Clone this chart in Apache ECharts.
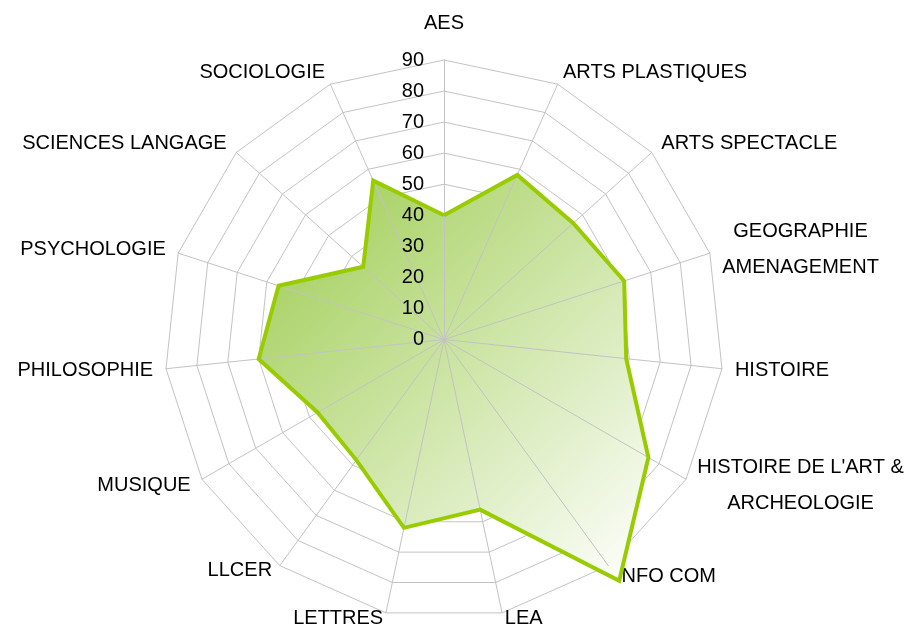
<!DOCTYPE html>
<html>
<head>
<meta charset="utf-8">
<script src="https://cdn.jsdelivr.net/npm/echarts@6/dist/echarts.min.js"></script>
<style>
html, body { margin: 0; padding: 0; background: #fff; }
#chart { width: 906px; height: 627px; }
</style>
</head>
<body>
<div id="chart"></div>
<script>
// categories clockwise from the top, as in the picture
const categories = ['AES', 'ARTS PLASTIQUES', 'ARTS SPECTACLE', 'GEOGRAPHIE\nAMENAGEMENT', 'HISTOIRE',
  "HISTOIRE DE L'ART &\nARCHEOLOGIE", 'INFO COM', 'LEA', 'LETTRES', 'LLCER', 'MUSIQUE',
  'PHILOSOPHIE', 'PSYCHOLOGIE', 'SCIENCES LANGAGE', 'SOCIOLOGIE']
const values = [40, 58, 56, 61, 59, 76, 96, 56, 62, 48, 47, 60, 56, 35, 56]
const axisMax = 90
const tickStep = 10

const font = '"Liberation Sans", Arial, sans-serif'

// echarts goes counter-clockwise, so keep the first one and flip the rest
const order = [0].concat(categories.map((c, i) => i).slice(1).reverse())

const seriesData = order.map(i => values[i])

const nameStyle = { fontSize: 20, fontFamily: font, color: '#000', lineHeight: 36 }

const chart = echarts.init(document.getElementById('chart'))
chart.setOption({
  backgroundColor: '#fff',
  animation: false,
  radar: [{
    center: [444, 339.5],
    radius: 279.5,
    startAngle: 90,
    splitNumber: axisMax / tickStep,
    shape: 'polygon',
    indicator: order.map(i => ({ name: categories[i], min: 0, max: axisMax })),
    axisName: {
      color: '#000',
      fontSize: 20,
      fontFamily: font,
      formatter: function (name) {
        if (name === 'AES') return '{top|' + name + '}'
        if (name === 'LEA' || name === 'LETTRES') return '{bot|' + name + '}'
        if (name === 'LLCER') return '{ll|' + name + '}'
        return name.split('\n').map(s => '{c|' + s + '}').join('\n')
      },
      rich: {
        c: Object.assign({ align: 'center' }, nameStyle),
        top: Object.assign({ padding: [0, 0, 12, 0] }, nameStyle),
        bot: Object.assign({ padding: [0, 0, 14, 0] }, nameStyle),
        ll: Object.assign({ padding: [0, 0, 12, 0] }, nameStyle)
      }
    },
    nameGap: 13,
    axisLine: { show: false },
    splitLine: { lineStyle: { color: '#c3c3c3', width: 1 } },
    splitArea: { show: false },
    axisTick: { show: false },
    axisLabel: { show: false }
  }, {
    // spokes and tick labels drawn above the filled area
    center: [444, 339.5],
    radius: 279.5,
    startAngle: 90,
    splitNumber: axisMax / tickStep,
    shape: 'polygon',
    z: 5,
    indicator: order.map((i, k) => {
      const ind = { name: categories[i], min: 0, max: axisMax }
      if (k === 0) ind.axisLabel = { show: true }
      return ind
    }),
    axisName: { show: false },
    axisLine: { show: true, lineStyle: { color: '#c3c3c3', width: 1 } },
    splitLine: { show: false },
    splitArea: { show: false },
    axisTick: { show: false },
    axisLabel: { show: false, margin: 20, fontSize: 20, fontFamily: font, color: '#000' }
  }],
  series: [{
    // filled area
    type: 'radar',
    radarIndex: 0,
    symbol: 'none',
    lineStyle: { width: 0, opacity: 0 },
    areaStyle: {
      opacity: 1,
      color: new echarts.graphic.LinearGradient(0, 0, 1, 1, [
        { offset: 0, color: '#9ccb4e' },
        { offset: 1, color: '#ffffff' }
      ])
    },
    data: [{ value: seriesData, name: 'Valeurs' }]
  }, {
    // outline on top of the spokes
    type: 'radar',
    radarIndex: 0,
    z: 6,
    symbol: 'none',
    lineStyle: { color: '#99cc00', width: 4, join: 'miter' },
    data: [{ value: seriesData, name: 'Valeurs' }]
  }]
})
</script>
</body>
</html>
